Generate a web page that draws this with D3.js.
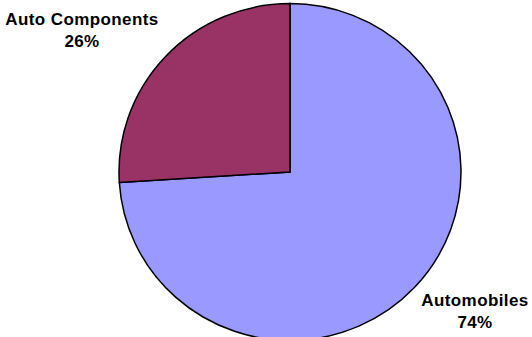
<!DOCTYPE html>
<html>
<head>
<meta charset="utf-8">
<script src="https://cdn.jsdelivr.net/npm/d3@7"></script>
<style>
  html, body { margin: 0; padding: 0; background: #fff; }
  svg { display: block; }
  .lbl { font-family: "Liberation Sans", Arial, Helvetica, sans-serif; font-weight: bold; font-size: 17px; letter-spacing: 0.4px; fill: #000; }
</style>
</head>
<body>
<svg id="chart" width="532" height="337"></svg>
<script>
// Share of output by segment
const categories = ["Automobiles", "Auto Components"];
const shares = [74, 26];
const colors = ["#9999FF", "#993366"];
// Label anchor positions (centre of the label block, first baseline)
const labelPos = [[475, 306], [82, 25]];

const W = 532, H = 337;
const cx = 290, cy = 172, radius = 171;

const svg = d3.select("#chart");

const pie = d3.pie()
  .sort(null)
  .value(d => d)
  .startAngle(0)
  .endAngle(2 * Math.PI);

const arcs = pie(shares);
const arc = d3.arc().innerRadius(0).outerRadius(radius);

const color = d3.scaleOrdinal().domain(categories).range(colors);

const g = svg.append("g")
  .attr("transform", `translate(${cx},${cy}) scale(1,0.985)`);

g.selectAll("path")
  .data(arcs)
  .join("path")
  .attr("d", arc)
  .attr("fill", (d, i) => color(categories[i]))
  .attr("stroke", "#000")
  .attr("stroke-width", 1.5)
  .attr("stroke-linejoin", "miter");

const labels = svg.selectAll("text.lbl")
  .data(arcs)
  .join("text")
  .attr("class", "lbl")
  .attr("text-anchor", "middle")
  .attr("x", (d, i) => labelPos[i][0])
  .attr("y", (d, i) => labelPos[i][1]);

labels.append("tspan")
  .attr("x", (d, i) => labelPos[i][0])
  .text((d, i) => categories[i]);

labels.append("tspan")
  .attr("x", (d, i) => labelPos[i][0])
  .attr("dy", 22)
  .text(d => d3.format(".0f")(d.data) + "%");
</script>
</body>
</html>
